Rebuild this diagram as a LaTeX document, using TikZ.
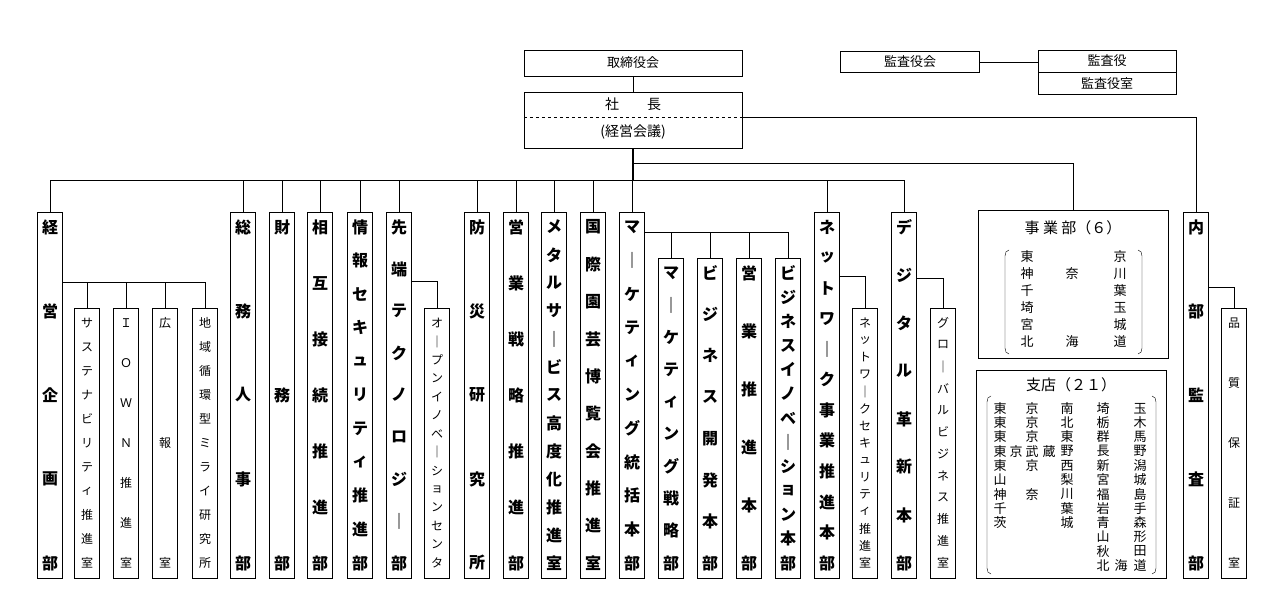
\documentclass[tikz,border=0pt]{standalone}
\usepackage{fontspec}
\setmainfont{Noto Sans CJK JP}
\usetikzlibrary{positioning}

\tikzset{
  box/.style={draw, inner sep=0pt, font=\fontsize{13}{13}\selectfont},
  colbox/.style={draw, minimum width=25pt, inner sep=0pt},
  big/.style={font=\fontsize{16}{16}\selectfont\bfseries, inner sep=0pt},
  small/.style={font=\fontsize{12}{12}\selectfont, inner sep=0pt},
  lst/.style={font=\fontsize{13}{13}\selectfont, inner sep=0pt},
}
% vertical column: name, x centre, top, count, chars, char style
\newcommand{\vcol}[6]{%
  \node[colbox, minimum height={(578-#3)*1pt}] (#1) at (#2,{(#3+578)/2}) {};
  \foreach \c [count=\i] in {#5}
    \node[#6] at (#2,{#3+15+(\i-1)*(578-#3-30)/(#4-1)}) {\c};
}

\begin{document}
\begin{tikzpicture}[x=1pt,y=-1pt]
\useasboundingbox (0,0) rectangle (1280,613);

% top
\node[box, minimum width=218pt, minimum height=26pt] (torishimari) at (633,63) {取締役会};
\node[box, minimum width=218pt, minimum height=56pt] (shacho) at (633,120) {};
\node[font=\fontsize{14}{14}\selectfont] at (633,104) {社　　長};
\node[font=\fontsize{14}{14}\selectfont] at (633,132) {(経営会議)};
\draw[dashed] ([yshift=3pt]shacho.west) -- ([yshift=3pt]shacho.east);
\node[box, minimum width=139pt, minimum height=21pt] (kansakai) at (910,62) {監査役会};
\node[box, minimum width=138pt, minimum height=22pt] (kansayaku) at (1107,61) {監査役};
\node[box, minimum width=138pt, minimum height=22pt, below=0pt of kansayaku] (kansashitsu) {監査役室};
\draw (kansakai.east) -- (kansakai.east -| kansayaku.west);
\draw (torishimari) -- (shacho);

% columns
\vcol{keiki}{50}{212}{5}{経,営,企,画,部}{big}
\vcol{sus}{87}{308}{11}{サ,ス,テ,ナ,ビ,リ,テ,ィ,推,進,室}{small}
\vcol{iown}{126}{308}{7}{Ｉ,Ｏ,Ｗ,Ｎ,推,進,室}{small}
\vcol{koho}{165}{308}{3}{広,報,室}{small}
\vcol{chiiki}{205}{308}{11}{地,域,循,環,型,ミ,ラ,イ,研,究,所}{small}
\vcol{somu}{243}{212}{5}{総,務,人,事,部}{big}
\vcol{zaimu}{282}{212}{3}{財,務,部}{big}
\vcol{sogo}{320}{212}{7}{相,互,接,続,推,進,部}{big}
\vcol{joho}{360}{212}{11}{情,報,セ,キ,ュ,リ,テ,ィ,推,進,部}{big}
\vcol{sentan}{399}{212}{9}{先,端,テ,ク,ノ,ロ,ジ,｜,部}{big}
\vcol{open}{437}{308}{14}{オ,｜,プ,ン,イ,ノ,ベ,｜,シ,ョ,ン,セ,ン,タ}{small}
\vcol{bosai}{477}{212}{5}{防,災,研,究,所}{big}
\vcol{eisen}{516}{212}{7}{営,業,戦,略,推,進,部}{big}
\vcol{metal}{554}{212}{13}{メ,タ,ル,サ,｜,ビ,ス,高,度,化,推,進,室}{big}
\vcol{kokusai}{593}{212}{10}{国,際,園,芸,博,覧,会,推,進,室}{big}
\vcol{mkt}{632}{212}{11}{マ,｜,ケ,テ,ィ,ン,グ,統,括,本,部}{big}
\vcol{mktsen}{671}{258}{10}{マ,｜,ケ,テ,ィ,ン,グ,戦,略,部}{big}
\vcol{bizdev}{710}{258}{8}{ビ,ジ,ネ,ス,開,発,本,部}{big}
\vcol{eisui}{749}{258}{6}{営,業,推,進,本,部}{big}
\vcol{bizinov}{788}{258}{13}{ビ,ジ,ネ,ス,イ,ノ,ベ,｜,シ,ョ,ン,本,部}{big}
\vcol{net}{827}{212}{12}{ネ,ッ,ト,ワ,｜,ク,事,業,推,進,本,部}{big}
\vcol{netsec}{865}{308}{15}{ネ,ッ,ト,ワ,｜,ク,セ,キ,ュ,リ,テ,ィ,推,進,室}{small}
\vcol{digi}{904}{212}{8}{デ,ジ,タ,ル,革,新,本,部}{big}
\vcol{global}{943}{308}{12}{グ,ロ,｜,バ,ル,ビ,ジ,ネ,ス,推,進,室}{small}
\vcol{naibu}{1196}{212}{5}{内,部,監,査,部}{big}
\vcol{hinshitsu}{1234}{308}{5}{品,質,保,証,室}{small}

% jigyobu
\node[draw, minimum width=190pt, minimum height=148pt] (jigyo) at (1073,284) {};
\node[font=\fontsize{15}{15}\selectfont] at (1073,228) {事 業 部（６）};
\draw (1009,250) to[out=180,in=90] (1005,256) -- (1005,348) to[out=-90,in=180] (1009,354);
\draw (1138,250) to[out=0,in=90] (1142,256) -- (1142,348) to[out=-90,in=0] (1138,354);
\foreach \a/\b/\c [count=\i] in {東//京,神/奈/川,千//葉,埼//玉,宮//城,北/海/道} {
  \node[lst] at (1027,{240+\i*17}) {\a};
  \node[lst] at (1072,{240+\i*17}) {\b};
  \node[lst] at (1120,{240+\i*17}) {\c};
}

% shiten
\node[draw, minimum width=190pt, minimum height=208pt] (shiten) at (1071,474) {};
\node[font=\fontsize{15}{15}\selectfont] at (1071,385) {支店（２１）};
\draw (991,396) to[out=180,in=90] (987,402) -- (987,568) to[out=-90,in=180] (991,574);
\draw (1152,396) to[out=0,in=90] (1156,402) -- (1156,568) to[out=-90,in=0] (1152,574);
\foreach \c [count=\i] in {東,東,東,東,東,山,神,千,茨} \node[lst] at (1000,{394+\i*14.3}) {\c};
\foreach \c [count=\i] in {京,京,京,武,京,,奈} \node[lst] at (1032,{394+\i*14.3}) {\c};
\node[lst] at (1016,{394+4*14.3}) {京};
\node[lst] at (1049,{394+4*14.3}) {蔵};
\foreach \c [count=\i] in {南,北,東,野,西,梨,川,葉,城} \node[lst] at (1067,{394+\i*14.3}) {\c};
\foreach \c [count=\i] in {埼,栃,群,長,新,宮,福,岩,青,山,秋,北} \node[lst] at (1103,{394+\i*14.3}) {\c};
\node[lst] at (1121,{394+12*14.3}) {海};
\foreach \c [count=\i] in {玉,木,馬,野,潟,城,島,手,森,形,田,道} \node[lst] at (1140,{394+\i*14.3}) {\c};

% connectors
\coordinate (bus) at (633,180);
\coordinate (jbr) at (633,163);
\draw[very thick] (shacho.south) -- (bus);
\draw[thick] (bus) -| (keiki.north);
\draw (bus) -| (digi.north);
\foreach \n in {somu,zaimu,sogo,joho,sentan,bosai,eisen,metal,kokusai,mkt,net}
  \draw (\n.north) -- (\n.north |- bus);
\draw (jbr) -| (jigyo.north);
\draw ([yshift=3pt]shacho.east) -| (naibu.north);
\draw ([yshift=-70pt]keiki.north east) -| (chiiki.north);
\foreach \n in {sus,iown,koho} \draw (\n.north) -- ++(0,-26);
\draw ([yshift=-69pt]sentan.north east) -| (open.north);
\draw ([yshift=-20pt]mkt.north east) -| (bizinov.north);
\foreach \n in {mktsen,bizdev,eisui} \draw (\n.north) -- ++(0,-26);
\draw ([yshift=-64pt]net.north east) -| (netsec.north);
\draw ([yshift=-66pt]digi.north east) -| (global.north);
\draw ([yshift=-75pt]naibu.north east) -| (hinshitsu.north);
\end{tikzpicture}
\end{document}
